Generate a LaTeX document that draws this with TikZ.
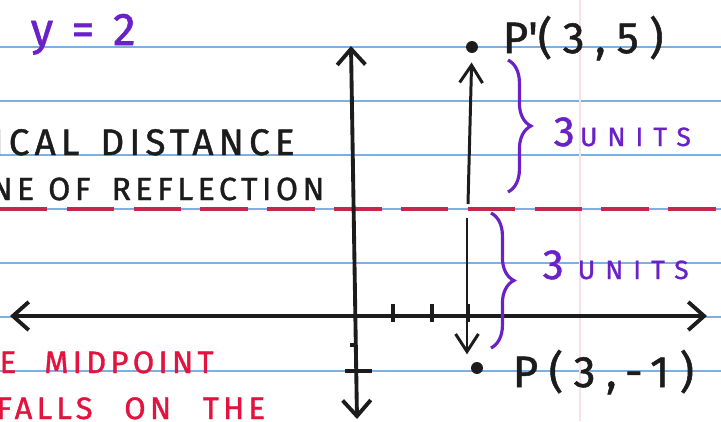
\documentclass[tikz,border=0pt]{standalone}
\usepackage{fontspec}
\usetikzlibrary{arrows.meta,positioning,decorations.pathreplacing,calc}
\newfontfamily\hand{Fira Sans}[LetterSpace=14, FakeBold=1.2]
\definecolor{ruleblue}{HTML}{7DB0E2}
\definecolor{penpurple}{HTML}{6A22C8}
\definecolor{penred}{HTML}{E3123E}
\definecolor{dashred}{HTML}{C9264C}
\definecolor{penblack}{HTML}{1C1C1C}
\definecolor{marginpink}{HTML}{F7E0E6}
\newcommand{\threeunits}[1]{{\fontsize{12}{12}\selectfont 3}\hspace{#1}{\fontsize{7.5}{7.5}\selectfont\addfontfeatures{LetterSpace=38}UNITS}}

\begin{document}
\begin{tikzpicture}[
    x=0.01cm, y=-0.01cm,
    rule/.style={draw=ruleblue, line width=0.7pt},
    margin/.style={draw=marginpink, line width=0.4pt},
    mirrorline/.style={draw=dashred, line width=1pt, dash pattern=on 13.5pt off 5.5pt},
    axis/.style={draw=penblack, line width=1.1pt, {Straight Barb[length=4.5pt,width=8pt]}-{Straight Barb[length=4.5pt,width=8pt]}},
    arrow/.style={draw=penblack, line width=0.85pt, -{Straight Barb[length=5pt,width=6.5pt]}},
    tickmark/.style={draw=penblack, line width=0.9pt},
    dot/.style={circle, fill=penblack, inner sep=0pt, minimum size=3.4pt},
    curly/.style={draw=penpurple, line width=0.9pt, decorate, decoration={brace, amplitude=6.5pt}},
    note/.style={font=\hand\fontsize{9.5}{9.5}\selectfont, text=penblack, inner sep=0pt, anchor=base west},
    rednote/.style={note, font=\hand\fontsize{8.8}{8.8}\selectfont, text=penred},
    ptlabel/.style={note, font=\hand\fontsize{12.5}{12.5}\selectfont\addfontfeatures{LetterSpace=24}},
    units/.style={note, text=penpurple}
]
\useasboundingbox (0,0) rectangle (721,421);
\clip (0,0) rectangle (721,421);

% ruled paper
\foreach \y in {47,101,...,371} \draw[rule] (0,\y) -- (721,\y);
\draw[margin] (580,0) -- (580,421);

% line of reflection y = 2
\coordinate (mL) at (0,209);
\coordinate (mR) at (721,209);
\draw[mirrorline] (mL) -- (mR);

% axes
\coordinate (xl) at (10,316);
\coordinate (xr) at (707,316);
\coordinate (yt) at (351,46);
\coordinate (yb) at (357,419);
\draw[axis] (xl) -- (xr);
\draw[axis] (yb) -- (yt);
\foreach \x in {393,432,468} \draw[tickmark] (\x,304) -- (\x,322);
\draw[tickmark] (350,345) -- (357,345);
\draw[tickmark] (345,371) -- (372,371);

% points and labels
\node[dot] (Pp) at (472,47) {};
\node[dot] (P) at (477,368) {};
\node[ptlabel] (PpLab) at (502,53) {P\textquotesingle(3,5)};
\node[ptlabel] (PLab) at (512,387) {P(3,-1)};

% distances to the line
\coordinate (up0) at (468,204);
\coordinate (dn0) at (467,218);
\draw[arrow, shorten >=2.5pt] (up0) -- (Pp);
\draw[arrow, shorten >=2pt] (dn0) -- (dn0 |- P.north);

\coordinate (b1s) at (508,60);
\coordinate (b1e) at (508,192);
\coordinate (b2s) at (491,213);
\coordinate (b2e) at (491,348);
\draw[curly] (b1s) -- (b1e);
\draw[curly] (b2s) -- (b2e);
\node[units] (u1) at (553,146) {\threeunits{1.5pt}};
\node[units] (u2) at (542,279) {\threeunits{4pt}};

% notes
\node[note, text=penpurple, font=\hand\fontsize{13}{13}\selectfont] (yeq) at (30,45) {y = 2};
\node[note, font=\hand\fontsize{10.5}{10.5}\selectfont] (t1) at (-8,155) {ICAL\hspace{6pt}DISTANCE};
\node[note, font=\hand\fontsize{9.1}{9.1}\selectfont] (t2) at (-10,200) {NE\hspace{4pt}OF\hspace{6pt}REFLECTION};
\node[rednote] (t3) at (-1,373) {E\hspace{8pt}MIDPOINT};
\node[rednote] (t4) at (-4,419) {FALLS\hspace{9pt}ON\hspace{9pt}THE};
\end{tikzpicture}
\end{document}
